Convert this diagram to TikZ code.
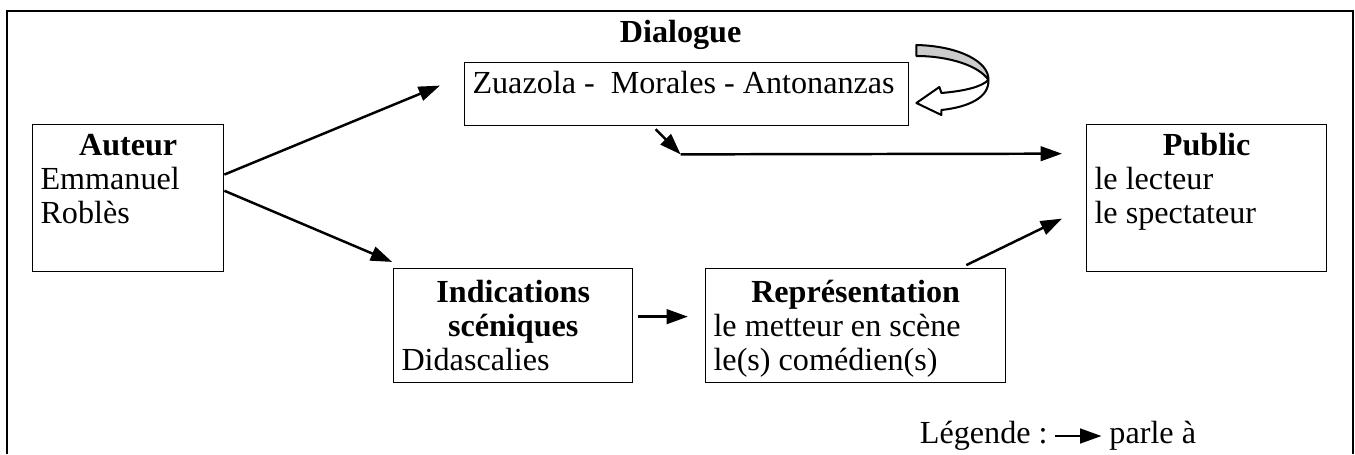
\documentclass[tikz,border=0pt]{standalone}
\usepackage{fontspec}
\setmainfont{Liberation Serif}
\usetikzlibrary{arrows.meta,positioning}

\tikzset{
	cadre/.style={draw,line width=0.6pt,anchor=north west,inner xsep=3.5pt,inner ysep=3pt},
	fleche/.style={-{Triangle[length=9.5pt,width=6.5pt]},line width=1.1pt},
}
\newcommand{\contenu}[3]{\parbox[t][#2][t]{#1}{#3}}

\begin{document}
\begin{tikzpicture}[x=0.445pt,y=-0.445pt,
	every node/.style={font=\fontsize{14.3pt}{15.2pt}\selectfont}
	]
	\useasboundingbox (0,0) rectangle (1355,454);
	% cadre ouvert en bas
	\draw[line width=0.7pt] (7,454) -- (7,11) -- (1353,11) -- (1353,454);
	
	\node[cadre] at (32,124) (auteur) {\contenu{78pt}{59.4pt}{\centering\strut\textbf{Auteur}\par\raggedright Emmanuel\\Roblès}};
	\node[cadre] at (464,62) (dialogue) {\contenu{190.6pt}{22pt}{\strut\mbox{Zuazola - \ Morales - Antonanzas}}};
	\node[anchor=base] at ([xshift=-2.7pt,yshift=8.9pt]dialogue.north) (dialtitre) {\textbf{Dialogue}};
	\node[cadre] at (1086,124) (public) {\contenu{99.8pt}{59.4pt}{\centering\strut\textbf{Public}\par\raggedright le lecteur\\le spectateur}};
	\node[cadre] at (393,268) (indic) {\contenu{99.4pt}{44.7pt}{\centering\rule{0pt}{12pt}\textbf{Indications}\\\textbf{scéniques}\par\raggedright Didascalies}};
	\node[cadre] at (705,268) (repr) {\contenu{126.5pt}{44.7pt}{\centering\rule{0pt}{12pt}\textbf{Représentation}\par\raggedright\mbox{le metteur en scène}\\le(s) comédien(s)}};
	
	\coordinate (coude) at ([xshift=-2.7pt,yshift=-12.5pt]dialogue.south);
	
	\draw[fleche] ([yshift=10.5pt]auteur.east) -- ([xshift=-10.7pt,yshift=3.8pt]dialogue.west);
	\draw[fleche] ([yshift=3.3pt]auteur.east) -- ([xshift=-0.4pt,yshift=2.7pt]indic.north west);
	\draw[fleche] ([xshift=-13.8pt,yshift=-1.3pt]dialogue.south) -- (coude);
	\draw[fleche] (coude) -- ([xshift=-10.7pt,yshift=19.8pt]public.west);
	\draw[fleche] ([xshift=-17.8pt,yshift=1.3pt]repr.north east) -- ([xshift=-10.7pt,yshift=-9.1pt]public.west);
	\draw[fleche] ([xshift=1.8pt,yshift=4pt]indic.east) -- ([xshift=-7.6pt,yshift=4pt]repr.west);
	
	% fleche courbe du dialogue
	\begin{scope}[shift={(dialogue.north east)},line width=0.9pt,line join=round]
		\draw[fill=black!20] (7,-17) .. controls (50,-16) and (80,0) .. (79,18) .. controls (70,4) and (40,-6) .. (7,-6) -- cycle;
		\draw[fill=white] (79,18) .. controls (80,35) and (60,45) .. (32,48) -- (32,53) -- (7,41) -- (30,25) -- (32,31) .. controls (55,29) and (72,25) .. (79,18) -- cycle;
	\end{scope}
	
	% legende
	\node[anchor=west] at (912,436) (legende) {Légende :};
	\node[right=20.5pt of legende] (parle) {parle à};
	\draw[fleche] (legende.east) -- (parle.west);
\end{tikzpicture}
\end{document}
